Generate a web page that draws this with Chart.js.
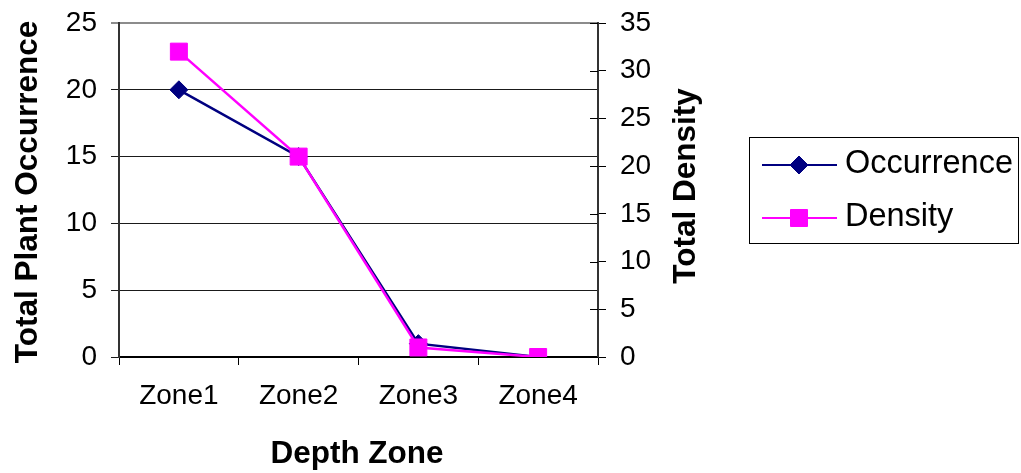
<!DOCTYPE html>
<html>
<head>
<meta charset="utf-8">
<script src="https://cdn.jsdelivr.net/npm/chart.js@4/dist/chart.umd.min.js"></script>
<style>
  html, body { margin: 0; padding: 0; background: #ffffff; }
  canvas { display: block; }
</style>
</head>
<body>
<canvas id="chart" width="1021" height="473"></canvas>
<script>
// Depth zones and the two measured series
const zones = ['Zone1', 'Zone2', 'Zone3', 'Zone4'];
const occurrence = [20, 15, 1, 0];   // left axis
const density = [32, 21, 1, 0];      // right axis
const occurrenceTicks = [0, 5, 10, 15, 20, 25];
const densityTicks = [0, 5, 10, 15, 20, 25, 30, 35];

const FONT = '"Liberation Sans", Arial, sans-serif';
const NAVY = '#000080';
const MAGENTA = '#ff00ff';

const series = [
  { label: 'Occurrence', data: occurrence, color: NAVY, style: 'rectRot', radius: 9, axis: 'y', order: 1 },
  { label: 'Density', data: density, color: MAGENTA, style: 'rect', radius: 12, axis: 'y1', order: 0 }
];

// fixed axis box sizes, with no extra room reserved for overflowing labels
function fixBox(size) {
  return function (scale) {
    if (scale.isHorizontal()) scale.height = size; else scale.width = size;
    scale.paddingTop = 0;
    scale.paddingBottom = 0;
    scale.paddingLeft = 0;
    scale.paddingRight = 0;
  };
}

// Axis titles, right-axis inner tick marks and the boxed legend
const decorations = {
  id: 'decorations',
  afterDraw(chart) {
    const ctx = chart.ctx;
    const area = chart.chartArea;
    const right = chart.scales.y1;

    ctx.save();
    // inner half of the right-axis tick marks
    ctx.strokeStyle = '#000000';
    ctx.lineWidth = 1;
    densityTicks.forEach(v => {
      const py = Math.round(right.getPixelForValue(v)) + 0.5;
      ctx.beginPath();
      ctx.moveTo(area.right - 8, py);
      ctx.lineTo(area.right, py);
      ctx.stroke();
    });

    // axis titles
    ctx.fillStyle = '#000000';
    ctx.font = 'bold 31.5px ' + FONT;
    ctx.textAlign = 'center';
    ctx.textBaseline = 'alphabetic';
    ctx.fillText('Depth Zone', 357, 463);

    ctx.save();
    ctx.translate(37, 192);
    ctx.rotate(-Math.PI / 2);
    ctx.fillText('Total Plant Occurrence', 0, 0);
    ctx.restore();

    ctx.save();
    ctx.translate(695, 186);
    ctx.rotate(-Math.PI / 2);
    ctx.fillText('Total Density', 0, 0);
    ctx.restore();

    // legend box
    ctx.strokeStyle = '#000000';
    ctx.lineWidth = 1;
    ctx.strokeRect(749.5, 137.5, 269, 106);
    const rows = [165, 218];
    series.forEach((s, i) => {
      const y = rows[i];
      ctx.strokeStyle = s.color;
      ctx.fillStyle = s.color;
      ctx.lineWidth = 2;
      ctx.beginPath();
      ctx.moveTo(762, y);
      ctx.lineTo(837, y);
      ctx.stroke();
      ctx.lineWidth = 1;
      Chart.helpers.drawPoint(ctx, { pointStyle: s.style, radius: s.radius, borderWidth: 1, rotation: 0 }, 799, y);
      ctx.fillStyle = '#000000';
      ctx.font = '32.5px ' + FONT;
      ctx.textAlign = 'left';
      ctx.fillText(s.label, 845, y + 8);
    });
    ctx.restore();
  }
};

new Chart(document.getElementById('chart'), {
  type: 'line',
  data: {
    labels: zones,
    datasets: series.map(s => ({
      label: s.label,
      data: s.data,
      yAxisID: s.axis,
      order: s.order,
      borderColor: s.color,
      backgroundColor: s.color,
      borderWidth: 2.5,
      pointStyle: s.style,
      pointRadius: s.radius,
      pointHoverRadius: s.radius,
      pointBorderWidth: 1,
      pointBackgroundColor: s.color,
      pointBorderColor: s.color,
      tension: 0,
      fill: false
    }))
  },
  options: {
    responsive: false,
    animation: false,
    devicePixelRatio: 1,
    layout: { padding: { top: 23, left: 0, right: 323, bottom: 0 } },
    plugins: { legend: { display: false }, tooltip: { enabled: false } },
    scales: {
      x: {
        type: 'category',
        offset: true,
        afterFit: fixBox(116),
        grid: {
          offset: true,
          drawOnChartArea: false,
          drawTicks: true,
          tickLength: 8,
          color: '#000000'
        },
        border: { display: true, color: '#000000', width: 2 },
        ticks: { color: '#000000', font: { family: FONT, size: 28 }, padding: 14, maxRotation: 0 }
      },
      y: {
        position: 'left',
        min: 0,
        max: 25,
        afterFit: fixBox(119),
        afterBuildTicks(scale) { scale.ticks = occurrenceTicks.map(v => ({ value: v })); },
        grid: {
          drawTicks: true,
          tickLength: 8,
          color(ctx) {
            if (ctx.tick && ctx.tick.value === 25) return '#8c8c8c';
            return '#1a1a1a';
          },
          lineWidth(ctx) { return (ctx.tick && ctx.tick.value === 25) ? 2 : 1; }
        },
        border: { display: true, color: '#333333', width: 2 },
        ticks: { color: '#000000', font: { family: FONT, size: 28 }, padding: 14 }
      },
      y1: {
        position: 'right',
        min: 0,
        max: 35,
        afterFit: fixBox(100),
        afterBuildTicks(scale) { scale.ticks = densityTicks.map(v => ({ value: v })); },
        grid: { drawOnChartArea: false, drawTicks: true, tickLength: 8, color: '#000000' },
        border: { display: true, color: '#333333', width: 2 },
        ticks: { color: '#000000', font: { family: FONT, size: 28 }, padding: 14 }
      }
    }
  },
  plugins: [decorations]
});
</script>
</body>
</html>
